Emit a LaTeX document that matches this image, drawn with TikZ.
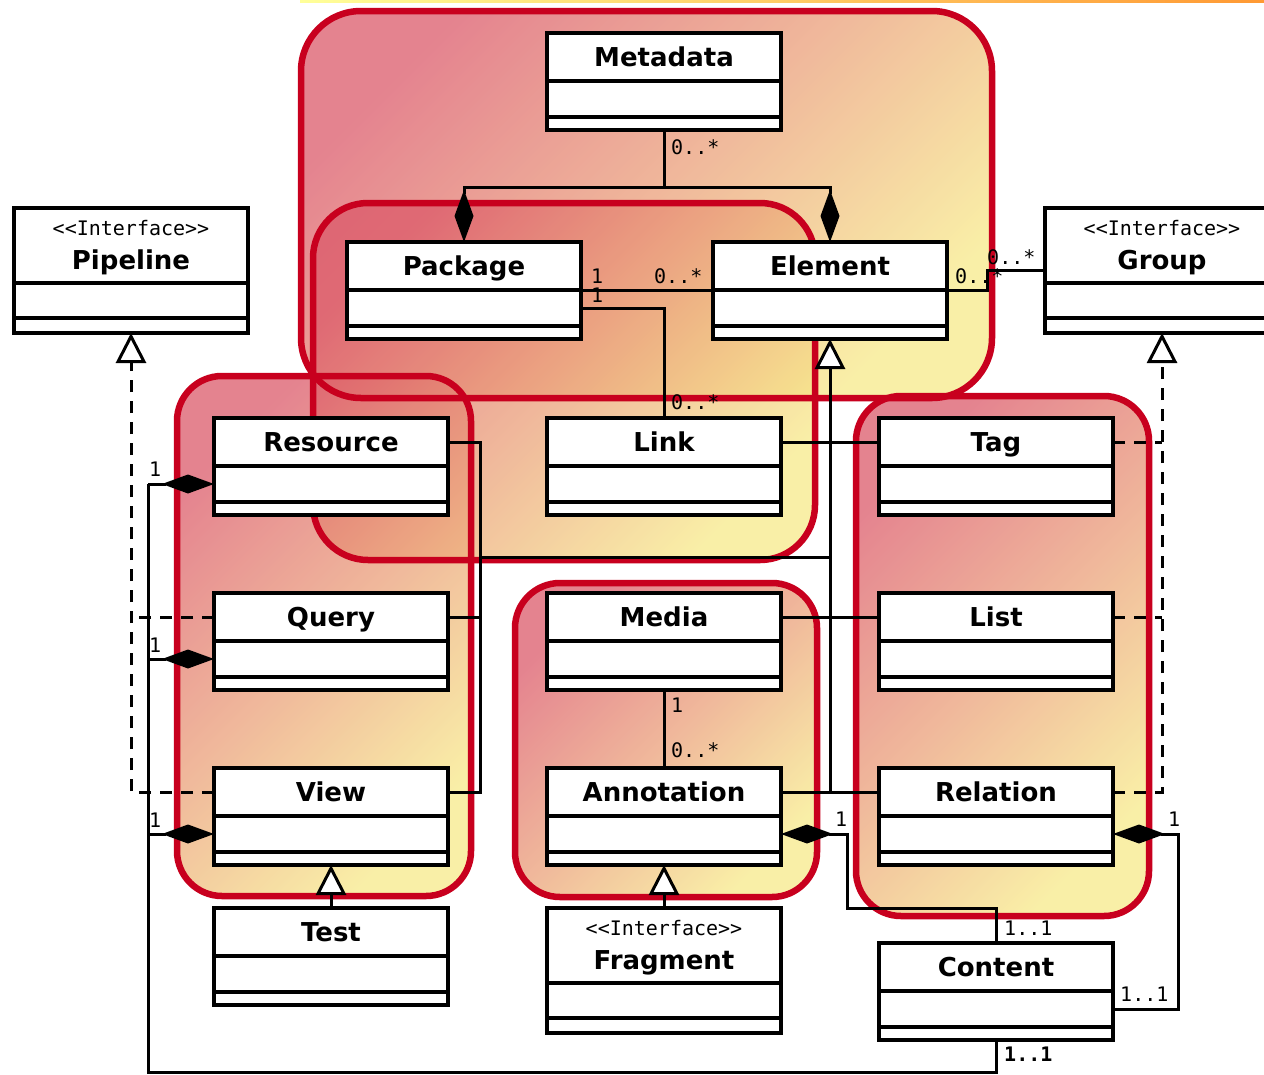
\documentclass[tikz,border=0pt]{standalone}
\usepackage{fontspec}
\usetikzlibrary{arrows.meta,calc}
\newfontfamily\namefont{DejaVu Sans}
\newfontfamily\multfont{DejaVu Sans Mono}
\definecolor{grpred}{HTML}{C8001E}
\definecolor{grpA}{HTML}{DC5A6A}
\definecolor{grpM}{HTML}{EBA07A}
\definecolor{grpB}{HTML}{F8EA8A}
\tikzset{
  clsbox/.style={draw=black, fill=white, line width=3.3pt, minimum width=234pt, inner sep=0pt, outer sep=0pt},
  clsline/.style={line width=3.3pt},
  clsname/.style={font=\namefont\bfseries\fontsize{26}{30}\selectfont, inner sep=0pt, anchor=base},
  stereo/.style={font=\multfont\fontsize{20}{23}\selectfont, inner sep=0pt},
  mult/.style={font=\multfont\fontsize{20}{23}\selectfont, inner sep=0pt, anchor=west},
  conn/.style={line width=3pt, black},
  dashconn/.style={conn, line width=3pt, dash pattern=on 12pt off 9pt},
  comp/.style={conn, -{Diamond[length=52pt,width=19pt]}},
  gen/.style={-{Triangle[length=30pt,width=30pt,fill=white]}},
  grpfill/.style={top color=grpA, bottom color=grpB, middle color=grpM, shading angle=45, fill opacity=0.75},
  grpedge/.style={draw=grpred, line width=6.5pt},
}
\newcommand\umlcls[4]{%
  \node[clsbox, minimum height=97pt] (#1) at ({#2+117},{#3+48.5}) {};
  \coordinate (#1-t) at ($(#1.north)+(0,24)$);
  \coordinate (#1-s) at ($(#1.north)+(0,48)$);
  \coordinate (#1-a) at ($(#1.north)+(0,66)$);
  \draw[clsline] ($(#1.north west)+(0,48)$) -- ($(#1.north east)+(0,48)$)
                 ($(#1.north west)+(0,84)$) -- ($(#1.north east)+(0,84)$);
  \node[clsname] (#1-n) at ({#2+117},{#3+33}) {#4};
}
\newcommand\umlifc[4]{%
  \node[clsbox, minimum height=125pt] (#1) at ({#2+117},{#3+62.5}) {};
  \coordinate (#1-t) at ($(#1.north)+(0,62)$);
  \draw[clsline] ($(#1.north west)+(0,75)$) -- ($(#1.north east)+(0,75)$)
                 ($(#1.north west)+(0,110)$) -- ($(#1.north east)+(0,110)$);
  \node[stereo] (#1-st) at ({#2+117},{#3+20}) {<\kern0pt<Interface>\kern0pt>};
  \node[clsname] (#1-n) at ({#2+117},{#3+61}) {#4};
}
\begin{document}
\begin{tikzpicture}[x=1pt,y=-1pt]
\clip (0,0) rectangle (1264,1074);
\fill[white] (0,0) rectangle (1264,1074);
\shade[left color=yellow!40, right color=orange!80] (300,0) rectangle (1264,2);

% ---- group fills ----
\shade[grpfill, rounded corners=60pt] (301,11) rectangle (992,398);
\shade[grpfill, rounded corners=55pt] (313,203) rectangle (815,560);
\shade[grpfill, rounded corners=45pt] (177,376) rectangle (471,896);
\shade[grpfill, rounded corners=45pt] (515,583) rectangle (817,897);
\shade[grpfill, rounded corners=45pt] (856,396) rectangle (1149,916);
% ---- group borders ----
\draw[grpedge, rounded corners=60pt] (301,11) rectangle (992,398);
\draw[grpedge, rounded corners=55pt] (313,203) rectangle (815,560);
\draw[grpedge, rounded corners=45pt] (177,376) rectangle (471,896);
\draw[grpedge, rounded corners=45pt] (515,583) rectangle (817,897);
\draw[grpedge, rounded corners=45pt] (856,396) rectangle (1149,916);

% ---- classes ----
\umlcls{Metadata}{547}{33}{Metadata}
\umlcls{Package}{347}{242}{Package}
\umlcls{Element}{713}{242}{Element}
\umlifc{Pipeline}{14}{208}{Pipeline}
\umlifc{Group}{1045}{208}{Group}
\umlcls{Resource}{214}{418}{Resource}
\umlcls{Link}{547}{418}{Link}
\umlcls{Tag}{879}{418}{Tag}
\umlcls{Query}{214}{593}{Query}
\umlcls{Media}{547}{593}{Media}
\umlcls{List}{879}{593}{List}
\umlcls{View}{214}{768}{View}
\umlcls{Annotation}{547}{768}{Annotation}
\umlcls{Relation}{879}{768}{Relation}
\umlcls{Test}{214}{908}{Test}
\umlifc{Fragment}{547}{908}{Fragment}
\umlcls{Content}{879}{943}{Content}

% ---- connectors ----
\draw[conn] (Metadata.south) -- ++(0,57) coordinate (mj);
\draw[comp] (mj) -| (Package.north);
\draw[comp] (mj) -| (Element.north);
\draw[conn] (Package.east |- Package-s) -- (Element.west |- Package-s);
\draw[conn] (Package.east |- Package-a) -| (Link.north);
\draw[conn] (Element.east |- Element-s) -- ++(40,0) |- (Group.west |- Group-t);

\draw[dashconn, gen] (View.west |- View-t) -| (Pipeline.south);
\draw[dashconn] (Query.west |- Query-t) -- (Pipeline.south |- Query-t);

\draw[dashconn, gen] (Relation.east |- Relation-t) -| (Group.south);
\draw[dashconn] (Tag.east |- Tag-t) -- (Group.south |- Tag-t);
\draw[dashconn] (List.east |- List-t) -- (Group.south |- List-t);

\coordinate (bus) at ($(Resource.east)+(32,0)$);
\coordinate (rq) at ($(Resource.south)!0.55!(Query.north)$);
\draw[conn, gen] (Element.south |- Annotation-t) -- (Element.south);
\draw[conn] (Link.east |- Link-t) -- (Tag.west |- Tag-t);
\draw[conn] (Media.east |- Media-t) -- (List.west |- List-t);
\draw[conn] (Annotation.east |- Annotation-t) -- (Relation.west |- Relation-t);
\draw[conn] (Resource.east |- Resource-t) -- (bus |- Resource-t) |- (View.east |- View-t);
\draw[conn] (Query.east |- Query-t) -- (bus |- Query-t);
\draw[conn] (bus |- rq) -- (Element.south |- rq);

\coordinate (lx) at ($(Resource.west)+(-66,0)$);
\draw[conn] (Content.south) -- ++(0,32) -| (lx |- Resource-a);
\draw[comp] (lx |- Resource-a) -- (Resource.west |- Resource-a);
\draw[comp] (lx |- Query-a) -- (Query.west |- Query-a);
\draw[comp] (lx |- View-a) -- (View.west |- View-a);

\draw[comp] (Content.north) -- ++(0,-35) -| ++(-149,-74) -- (Annotation.east |- Annotation-a);
\draw[comp] (Content.east |- Content-a) -- ++(65,0) |- (Relation.east |- Relation-a);

\draw[conn] (Media.south) -- (Annotation.north);
\draw[conn, gen] (Fragment.north) -- (Annotation.south);
\draw[conn, gen] (Test.north) -- (View.south);

% ---- multiplicities ----
\node[mult] (l1) at (671,147) {0..*};
\node[mult] (l2) at (591,276) {1};
\node[mult] (l3) at (591,295) {1};
\node[mult] (l4) at (654,276) {0..*};
\node[mult] (l5) at (671,402) {0..*};
\node[mult] (l6) at (955,276) {0..*};
\node[mult] (l7) at (987,257) {0..*};
\node[mult] (l8) at (149,469) {1};
\node[mult] (l9) at (149,645) {1};
\node[mult] (l10) at (149,820) {1};
\node[mult] (l11) at (671,705) {1};
\node[mult] (l12) at (671,750) {0..*};
\node[mult] (l13) at (835,819) {1};
\node[mult] (l14) at (1168,819) {1};
\node[mult] (l15) at (1004,928) {1..1};
\node[mult] (l16) at (1120,994) {1..1};
\node[mult, font=\multfont\bfseries\fontsize{20}{23}\selectfont] (l17) at (1004,1054) {1..1};
\end{tikzpicture}
\end{document}
